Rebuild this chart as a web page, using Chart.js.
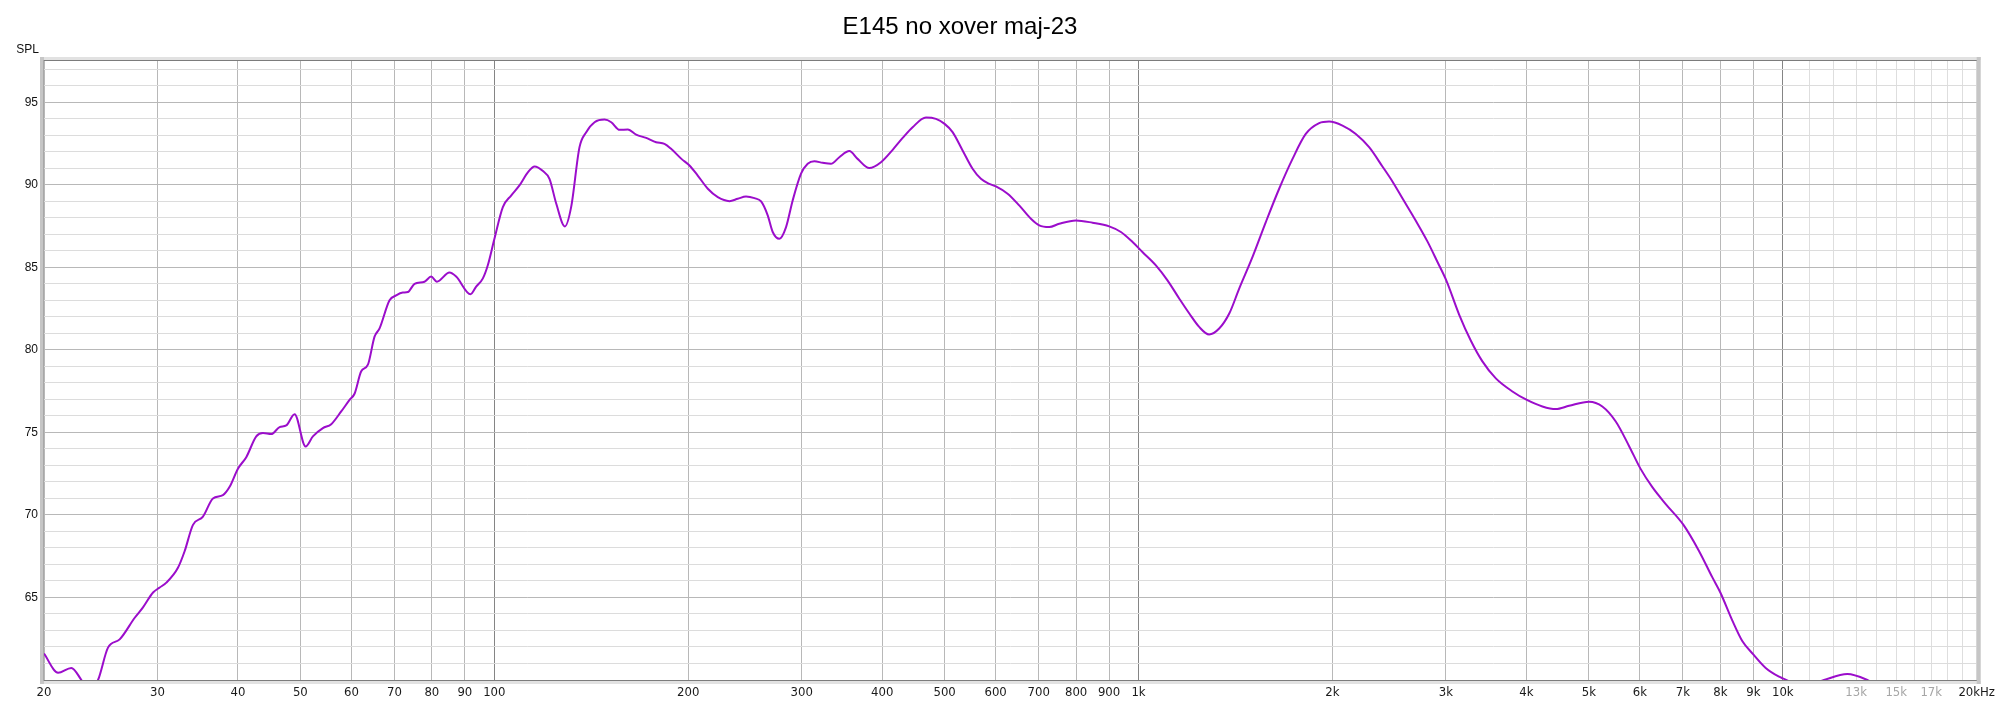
<!DOCTYPE html>
<html>
<head>
<meta charset="utf-8">
<script src="https://cdn.jsdelivr.net/npm/chart.js@4"></script>
<style>
html,body{margin:0;padding:0;background:#fff;}
#wrap{position:relative;width:2000px;height:704px;}
</style>
</head>
<body>
<div id="wrap"><canvas id="c" width="2000" height="704"></canvas></div>
<script>
const chartTitle = 'E145 no xover maj-23';
const yAxisTitle = 'SPL';

const freqHz = [
  20, 21.03, 22.05, 22.86, 23.5, 24.26, 25.14, 26.21, 27.66, 28.49,
  29.53, 30.24, 30.97, 32.28, 33.06, 34.06, 35.3, 36.58, 37.91, 38.83,
  40,
  41.21, 42.71, 43.74, 45.06, 46.42, 47.54, 48.98, 50.94, 52.29, 54.19,
  55.83, 57.86, 59.61, 60.68, 62.15, 63.65, 65.18, 66.36, 68.77, 70.42,
  72.12, 73.42, 75.19, 77.92, 79.8, 81.43, 85.2, 87.25, 91.84, 93.72,
  96, 97.73, 100,
  103.1, 106.2, 109.4, 112.8, 115.5, 119, 121.8, 124.8, 128.7, 131.6,
  135.6, 138.9, 143.1, 148.3, 151.9, 156.5, 161.2, 166, 172.1, 178.3,
  183.7, 188.1, 195.2, 200.9, 206.9, 214.5, 222.3, 231.7, 238.7, 245.9,
  253.4, 259.5, 265.7, 270.5, 277, 283.7, 290.5, 299.3, 306.5, 313.9,
  323.4, 333.1, 343.2, 355.7, 366.4, 382, 398.3, 415.3, 430.4, 446,
  467.8, 484.8,
  500, 514.5, 533.2, 552.6, 569.3, 586.6, 600.7, 626.3, 652.8, 680.7,
  701.3, 726.8, 753.2, 799.4, 848.5, 900.5, 938.9, 978.9, 1014, 1064,
  1109, 1157, 1199, 1242, 1287, 1334, 1383, 1433, 1503, 1576,
  1653, 1734, 1818, 1907, 1976, 2073, 2174, 2280, 2391, 2478,
  2568, 2694, 2808, 2911, 3006, 3145, 3280, 3418, 3586, 3805,
  4000, 4235, 4443, 4659, 5004, 5247, 5505, 5772, 6010, 6274,
  6582, 7008, 7412, 7772, 8000, 8348, 8652, 9000, 9408, 9866,
  10000, 10800, 11585, 12594, 13524, 15000
];

const splDb = [
  61.6, 60.44, 60.73, 60.0, 59.3, 60.0, 61.96, 62.46, 63.77, 64.4,
  65.3, 65.6, 65.9, 66.8, 67.8, 69.4, 69.9, 71.0, 71.2, 71.7,
  72.8,
  73.5, 74.76, 74.96, 74.9, 75.32, 75.42, 76.1, 74.15, 74.76, 75.26,
  75.5, 76.27, 76.97, 77.34, 78.7, 79.1, 80.8, 81.3, 83.0, 83.3,
  83.47, 83.5, 84.0, 84.13, 84.44, 84.13, 84.68, 84.44, 83.37, 83.83,
  84.33, 85.14, 86.7,
  88.65, 89.35, 89.96, 90.77, 91.11, 90.83, 90.36, 88.85, 87.48, 88.65,
  92.28, 93.19, 93.79, 93.95, 93.79, 93.33, 93.35, 93.04, 92.84, 92.58,
  92.48, 92.18, 91.57, 91.17, 90.56, 89.76, 89.25, 89.01, 89.15, 89.29,
  89.19, 88.99, 88.15, 87.14, 86.73, 87.44, 89.05, 90.67, 91.27, 91.43,
  91.33, 91.27, 91.67, 92.04, 91.57, 91.01, 91.37, 92.12, 92.84, 93.49,
  94.07, 93.99,
  93.69, 93.19, 92.08, 90.97, 90.36, 90.06, 89.9, 89.46, 88.75, 87.94,
  87.54, 87.44, 87.64, 87.84, 87.7, 87.48, 87.14, 86.53, 85.93, 85.12,
  84.21, 83.1, 82.2, 81.39, 80.93, 81.29, 82.2, 83.71, 85.63, 87.74,
  89.76, 91.57, 93.08, 93.73, 93.83, 93.59, 93.08, 92.28, 91.11, 90.2,
  89.18, 87.82, 86.57, 85.32, 84.18, 82.14, 80.55, 79.3, 78.27, 77.48,
  76.98, 76.57, 76.41, 76.61, 76.86, 76.57, 75.66, 74.18, 72.82, 71.68,
  70.66, 69.41, 67.82, 66.23, 65.3, 63.61, 62.36, 61.55, 60.73, 60.2,
  60.1, 59.6, 60.0, 60.36, 60.0, 59.0
];

const xTickValues = [
  20, 30, 40, 50, 60, 70, 80, 90,
  100, 200, 300, 400, 500, 600, 700, 800, 900,
  1000, 2000, 3000, 4000, 5000, 6000, 7000, 8000, 9000,
  10000, 11000, 12000, 13000, 14000, 15000, 16000, 17000, 18000, 19000, 20000
];
const xTickLabels = [
  '20', '30', '40', '50', '60', '70', '80', '90',
  '100', '200', '300', '400', '500', '600', '700', '800', '900',
  '1k', '2k', '3k', '4k', '5k', '6k', '7k', '8k', '9k',
  '10k', '', '', '13k', '', '15k', '', '17k', '', '', '20kHz'
];
const xMutedLabels = ['13k', '15k', '17k'];
const xDecades = [100, 1000, 10000];

const yMin = 60, yMax = 97.56;
const yTickValues = [];
for (let v = 60; v <= 97; v++) yTickValues.push(v);
const yTickLabels = [65, 70, 75, 80, 85, 90, 95];

const points = freqHz.map((f, i) => ({ x: f, y: splDb[i] }));

const decor = {
  id: 'decor',
  afterDraw(chart) {
    const { ctx, chartArea: a } = chart;
    const w = a.right - a.left, h = a.bottom - a.top;
    ctx.save();
    // light outer bands
    ctx.fillStyle = '#e2e2e2';
    ctx.fillRect(a.left - 4, a.top - 3, w + 8, 3);
    ctx.fillRect(a.left - 4, a.bottom + 1, w + 8, 3);
    // side bands
    ctx.fillStyle = '#c6c6c6';
    ctx.fillRect(a.left - 4, a.top - 3, 4, h + 7);
    ctx.fillRect(a.right, a.top - 3, 4, h + 7);
    // dark inner lines
    ctx.fillStyle = '#7c7c7c';
    ctx.fillRect(a.left - 1, a.top, w + 1, 1);
    ctx.fillRect(a.left - 1, a.bottom, w + 1, 1);
    ctx.fillStyle = '#a8a8a8';
    ctx.fillRect(a.left - 1, a.top, 1, h + 1);
    // title
    ctx.fillStyle = '#000';
    ctx.font = '24px "Liberation Sans", Arial, sans-serif';
    ctx.textAlign = 'center';
    ctx.textBaseline = 'middle';
    ctx.fillText(chartTitle, 960, 27);
    // axis title
    ctx.font = '12px "Liberation Sans", Arial, sans-serif';
    ctx.textAlign = 'right';
    ctx.fillStyle = '#111';
    ctx.fillText(yAxisTitle, 39, 50);
    ctx.restore();
  }
};

new Chart(document.getElementById('c'), {
  type: 'line',
  data: {
    datasets: [{
      data: points,
      borderColor: '#9b0dcb',
      borderWidth: 2,
      pointRadius: 0,
      fill: false,
      cubicInterpolationMode: 'monotone'
    }]
  },
  options: {
    responsive: false,
    devicePixelRatio: 1,
    animation: false,
    layout: { padding: { top: 60, right: 22, left: 0, bottom: 0 } },
    plugins: { legend: { display: false }, title: { display: false }, tooltip: { enabled: false } },
    scales: {
      x: {
        type: 'logarithmic',
        min: 20,
        max: 20000,
        bounds: 'data',
        afterBuildTicks(scale) { scale.ticks = xTickValues.map(v => ({ value: v })); },
        afterFit(scale) { scale.height = 24; },
        border: { display: false },
        grid: {
          drawTicks: false,
          lineWidth: 1,
          color(c) {
            const v = c.tick && c.tick.value;
            if (xDecades.includes(v)) return '#858585';
            if (v > 10000) return '#dedede';
            return '#b8b8b8';
          }
        },
        ticks: {
          autoSkip: false,
          maxRotation: 0,
          minRotation: 0,
          padding: 5,
          font: { family: '"Liberation Sans Narrow", "DejaVu Sans Condensed", "Liberation Sans", sans-serif', size: 13 },
          color(c) {
            const i = xTickValues.indexOf(c.tick.value);
            return xMutedLabels.includes(xTickLabels[i]) ? '#a6a6a6' : '#1a1a1a';
          },
          callback(value) {
            const i = xTickValues.indexOf(value);
            return i >= 0 ? xTickLabels[i] : '';
          }
        }
      },
      y: {
        type: 'linear',
        min: yMin,
        max: yMax,
        afterBuildTicks(scale) { scale.ticks = yTickValues.map(v => ({ value: v })); },
        afterFit(scale) { scale.width = 44; },
        border: { display: false },
        grid: {
          drawTicks: false,
          lineWidth: 1,
          color(c) {
            const v = c.tick && c.tick.value;
            return v % 5 === 0 ? '#b8b8b8' : '#dcdcdc';
          }
        },
        ticks: {
          autoSkip: false,
          padding: 6,
          font: { family: '"Liberation Sans", Arial, sans-serif', size: 12 },
          color: '#111',
          callback(value) { return yTickLabels.includes(value) ? String(value) : ''; }
        }
      }
    }
  },
  plugins: [decor]
});
</script>
</body>
</html>
